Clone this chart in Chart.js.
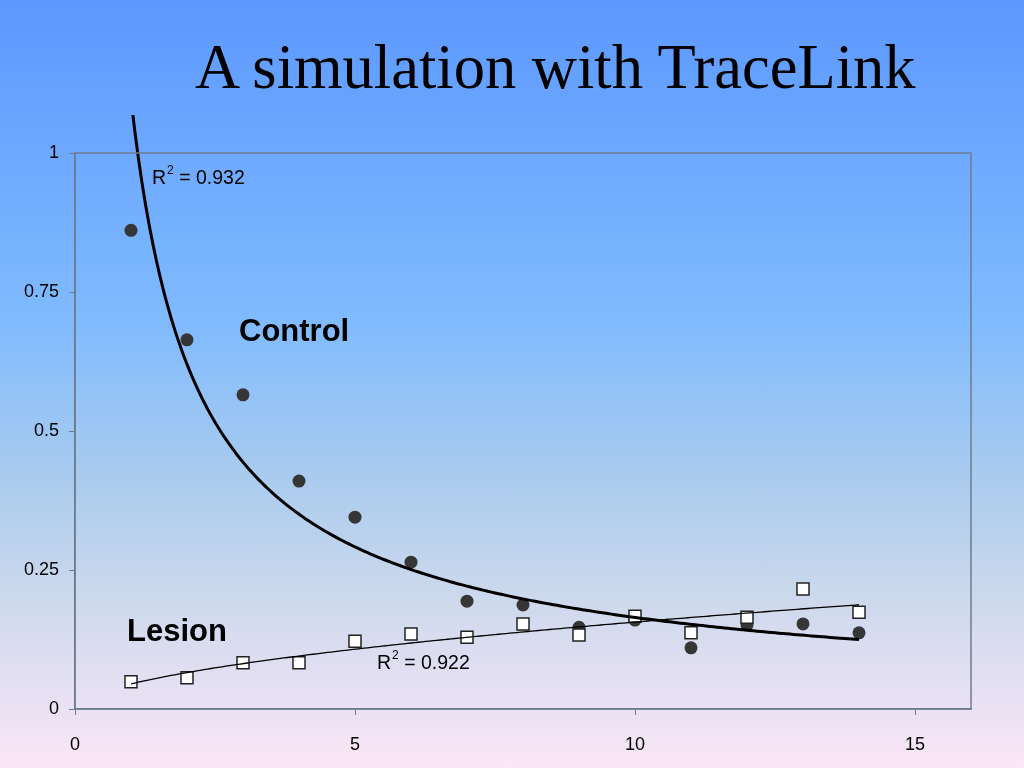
<!DOCTYPE html>
<html>
<head>
<meta charset="utf-8">
<script src="https://cdn.jsdelivr.net/npm/chart.js@4.4.1/dist/chart.umd.min.js"></script>
<style>
    html, body {
        margin: 0;
        padding: 0;
        width: 1024px;
        height: 768px;
        overflow: hidden;
    }
    body {
        background: linear-gradient(to bottom, #5c98fe 0%, #80bbfe 42%, #a9cbee 62%, #cdd9ec 78%, #fbe6f8 100%);
        position: relative;
    }
    #title {
        position: absolute;
        left: 195px;
        top: 36px;
        font-family: "Liberation Serif", "Times New Roman", serif;
        font-size: 62.5px;
        line-height: 62px;
        color: #000;
        white-space: nowrap;
    }
    #wrap {
        position: absolute;
        left: 0;
        top: 0;
        width: 1024px;
        height: 768px;
    }
</style>
</head>
<body>
<div id="title">A simulation with TraceLink</div>
<div id="wrap"><canvas id="chart" width="1024" height="768"></canvas></div>

<script>
// Données
const trials = [1, 2, 3, 4, 5, 6, 7, 8, 9, 10, 11, 12, 13, 14];
const controlValues = [0.861, 0.664, 0.565, 0.410, 0.345, 0.264, 0.194, 0.187, 0.147, 0.160, 0.110, 0.151, 0.153, 0.137];
const lesionValues = [0.049, 0.056, 0.083, 0.083, 0.122, 0.135, 0.129, 0.153, 0.133, 0.167, 0.137, 0.165, 0.216, 0.174];
const xTickValues = [0, 5, 10, 15];
const yTickValues = [0, 0.25, 0.5, 0.75, 1];
const controlR2 = '0.932';
const lesionR2 = '0.922';

/**
 * Courbe de tendance puissance (y = a * x^b), moindres carrés sur log-log, comme Excel
 */
function powerTrend(xs, ys) {
    const lx = xs.map(v => Math.log(v));
    const ly = ys.map(v => Math.log(v));
    const n = xs.length;
    const mx = lx.reduce((a, b) => a + b, 0) / n;
    const my = ly.reduce((a, b) => a + b, 0) / n;
    let sxy = 0, sxx = 0;
    for (let i = 0; i < n; i++) {
        sxy += (lx[i] - mx) * (ly[i] - my);
        sxx += (lx[i] - mx) * (lx[i] - mx);
    }
    const b = sxy / sxx;
    const a = Math.exp(my - b * mx);
    const pts = [];
    const x0 = xs[0], x1 = xs[n - 1];
    for (let k = 0; k <= 200; k++) {
        const x = x0 + (x1 - x0) * k / 200;
        pts.push({ x: x, y: a * Math.pow(x, b) });
    }
    return pts;
}

const toPoints = (xs, ys) => xs.map((x, i) => ({ x: x, y: ys[i] }));

const AXIS_GREY = '#6c7c8e';
const SANS = '"Liberation Sans", Arial, sans-serif';

// Cadre de la zone de tracé + étiquettes (Control, Lesion, R²)
const annotations = {
    id: 'annotations',
    afterDraw(chart) {
        const ctx = chart.ctx;
        const a = chart.chartArea;
        ctx.save();
        ctx.strokeStyle = AXIS_GREY;
        ctx.lineWidth = 1.5;
        ctx.strokeRect(a.left, a.top, a.right - a.left, a.bottom - a.top);

        ctx.fillStyle = '#000';
        ctx.textBaseline = 'middle';
        ctx.font = 'bold 31px ' + SANS;
        ctx.fillText('Control', 239, 332);
        ctx.fillText('Lesion', 127, 632);

        const drawR2 = (x, y, val) => {
            ctx.font = '19.5px ' + SANS;
            ctx.fillText('R', x, y);
            const w = ctx.measureText('R').width;
            ctx.font = '12px ' + SANS;
            ctx.fillText('2', x + w + 1, y - 8);
            const w2 = ctx.measureText('2').width;
            ctx.font = '19.5px ' + SANS;
            ctx.fillText(' = ' + val, x + w + 1 + w2, y);
        };
        drawR2(152, 179, controlR2);
        drawR2(377, 664, lesionR2);
        ctx.restore();
    }
};

const ctx = document.getElementById('chart').getContext('2d');

new Chart(ctx, {
    type: 'scatter',
    data: {
        datasets: [
            {
                label: 'Control trend',
                type: 'line',
                data: powerTrend(trials, controlValues),
                borderColor: '#000',
                borderWidth: 3,
                pointRadius: 0,
                fill: false,
                tension: 0,
                order: 0,
                clip: { left: 0, top: 38, right: 0, bottom: 0 }
            },
            {
                label: 'Lesion trend',
                type: 'line',
                data: powerTrend(trials, lesionValues),
                borderColor: '#000',
                borderWidth: 1.3,
                pointRadius: 0,
                fill: false,
                tension: 0,
                order: 0
            },
            {
                label: 'Lesion',
                data: toPoints(trials, lesionValues),
                pointStyle: 'rect',
                pointRadius: 8.5,
                backgroundColor: '#ffffff',
                borderColor: '#222',
                borderWidth: 1.5,
                order: 1
            },
            {
                label: 'Control',
                data: toPoints(trials, controlValues),
                pointStyle: 'circle',
                pointRadius: 6.5,
                backgroundColor: '#363636',
                borderColor: '#363636',
                borderWidth: 0,
                order: 2
            }
        ]
    },
    options: {
        responsive: false,
        animation: false,
        layout: {
            padding: { left: 0, top: 153, right: 53, bottom: 0 }
        },
        plugins: {
            legend: { display: false },
            tooltip: { enabled: false },
            title: { display: false }
        },
        scales: {
            x: {
                type: 'linear',
                min: 0,
                max: 16,
                afterBuildTicks: scale => {
                    scale.ticks = xTickValues.map(v => ({ value: v }));
                },
                afterFit: scale => { scale.height = 59; },
                border: { display: true, color: AXIS_GREY, width: 1.5 },
                grid: {
                    drawOnChartArea: false,
                    drawTicks: true,
                    tickLength: 6,
                    color: AXIS_GREY
                },
                ticks: {
                    padding: 19,
                    color: '#000',
                    font: { family: SANS, size: 18 },
                    callback: v => String(v)
                }
            },
            y: {
                type: 'linear',
                min: 0,
                max: 1,
                afterBuildTicks: scale => {
                    scale.ticks = yTickValues.map(v => ({ value: v }));
                },
                afterFit: scale => { scale.width = 75; },
                border: { display: true, color: AXIS_GREY, width: 1.5 },
                grid: {
                    drawOnChartArea: false,
                    drawTicks: true,
                    tickLength: 6,
                    color: AXIS_GREY
                },
                ticks: {
                    padding: 10,
                    color: '#000',
                    font: { family: SANS, size: 18 },
                    callback: v => String(v)
                }
            }
        }
    },
    plugins: [annotations]
});
</script>
</body>
</html>
